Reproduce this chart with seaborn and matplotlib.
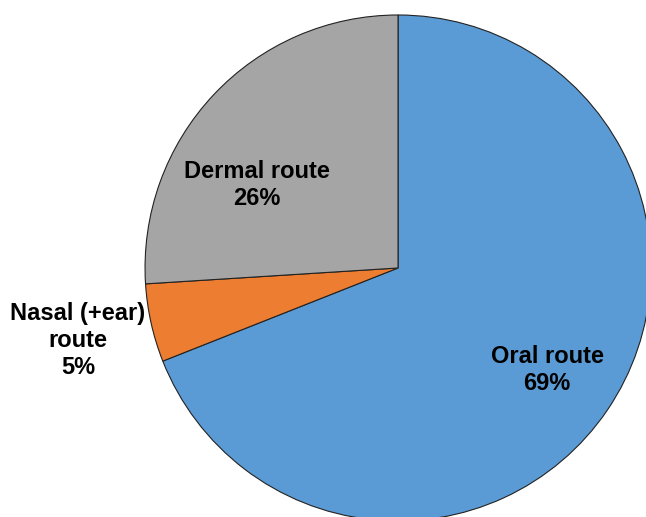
import matplotlib
matplotlib.use("Agg")
import matplotlib.pyplot as plt
import seaborn as sns

# Exposure routes (share, %)
routes = ["Oral route", "Nasal (+ear)\nroute", "Dermal route"]
shares = [69, 5, 26]
colors = ["#5B9BD5", "#ED7D31", "#A5A5A5"]

sns.set_style("white")
plt.rcParams["font.family"] = ["Liberation Sans", "DejaVu Sans"]

fig = plt.figure(figsize=(6.46, 5.17), dpi=100)
ax = fig.add_axes([0.2245, -0.0077, 0.7833, 0.9787])

wedges, _ = ax.pie(shares, colors=colors, startangle=90, counterclock=False,
                   radius=1.0,
                   wedgeprops={"edgecolor": "#222222", "linewidth": 0.8})
ax.set_xlim(-1, 1)
ax.set_ylim(-1, 1)
ax.set_aspect("equal")
ax.axis("off")
for w in wedges:
    w.set_clip_on(False)

# label placement (data coords, pie radius = 1)
label_pos = [(0.589, -0.403), (-1.265, -0.285), (-0.557, 0.328)]
for name, val, (x, y) in zip(routes, shares, label_pos):
    ax.text(x, y, f"{name}\n{val}%", ha="center", va="center",
            fontsize=17, fontweight="bold", linespacing=1.22,
            color="black", clip_on=False)

plt.savefig("out.png", dpi=100)
